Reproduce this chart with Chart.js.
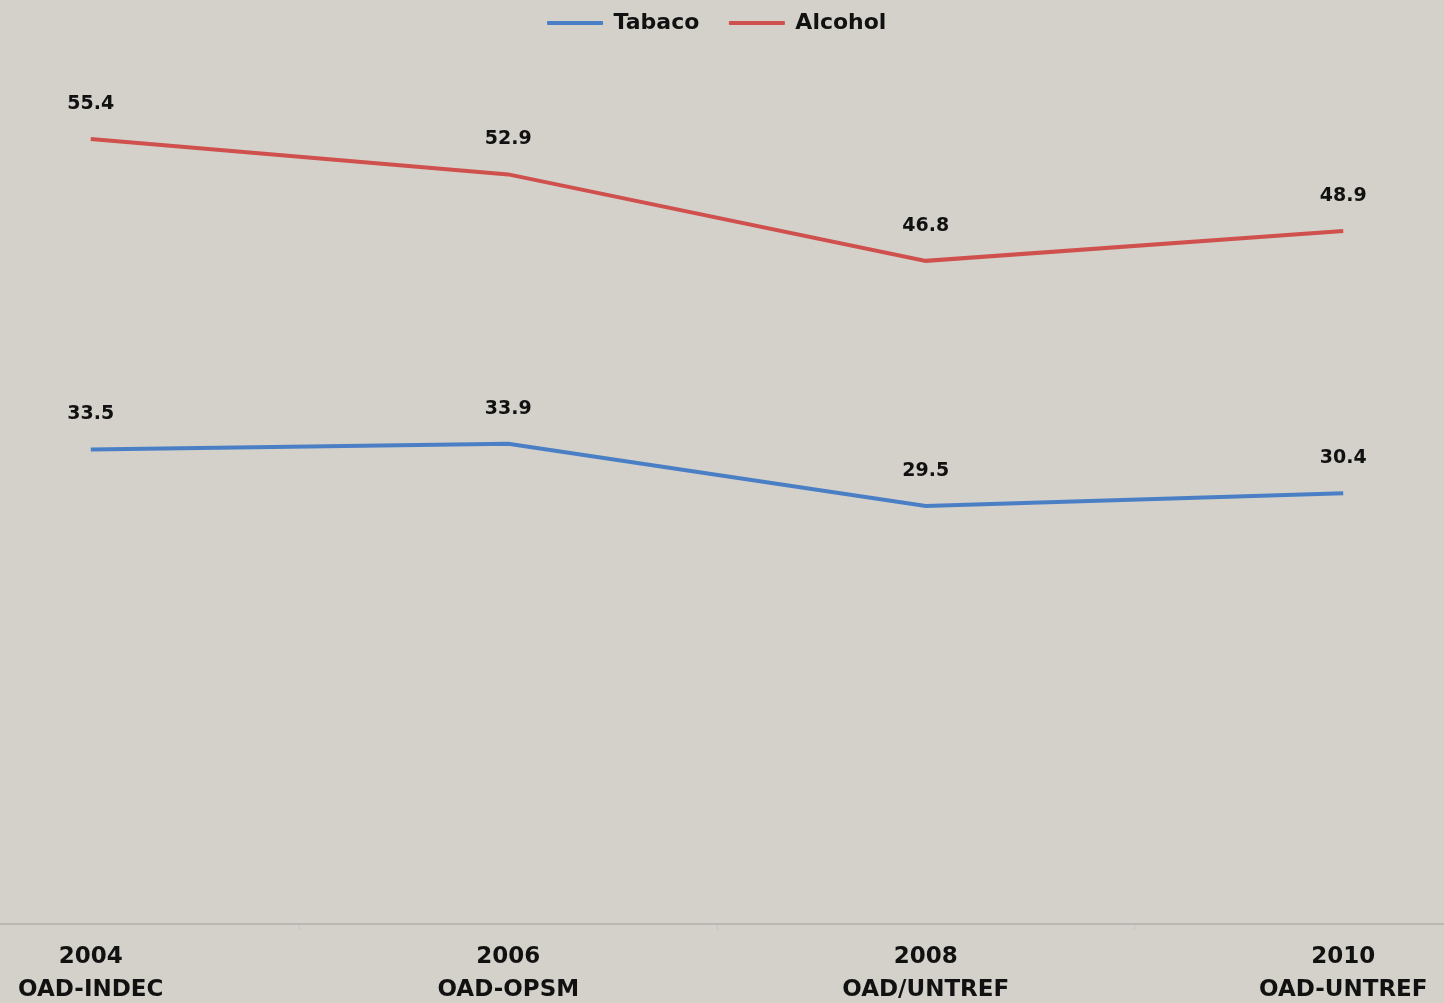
<!DOCTYPE html>
<html>
<head>
<meta charset="utf-8">
<script src="https://cdn.jsdelivr.net/npm/chart.js@4.4.1/dist/chart.umd.min.js"></script>
<style>
  html, body { margin: 0; padding: 0; background: #d3d1ca; overflow: hidden; }
  #wrap { position: absolute; left: -118px; top: 0; width: 1670px; height: 1016px; }
</style>
</head>
<body>
<div id="wrap"><canvas id="chart"></canvas></div>
<script>
// Survey years and sources
const YEARS = ['2004', '2006', '2008', '2010'];
const SOURCES = ['OAD-INDEC', 'OAD-OPSM', 'OAD/UNTREF', 'OAD-UNTREF'];

// Prevalence values (%)
const TABACO = [33.5, 33.9, 29.5, 30.4];
const ALCOHOL = [55.4, 52.9, 46.8, 48.9];

const FONT = '"DejaVu Sans", "Liberation Sans", sans-serif';

// Draw the value above each point
const valueLabels = {
    id: 'valueLabels',
    afterDatasetsDraw(chart) {
        const ctx = chart.ctx;
        ctx.save();
        ctx.font = `bold 19px ${FONT}`;
        ctx.fillStyle = '#111';
        ctx.textAlign = 'center';
        ctx.textBaseline = 'middle';
        chart.data.datasets.forEach((ds, i) => {
            const meta = chart.getDatasetMeta(i);
            meta.data.forEach((pt, j) => {
                ctx.fillText(ds.data[j].toFixed(1), pt.x, pt.y - 35);
            });
        });
        ctx.restore();
    }
};

new Chart(document.getElementById('chart'), {
    type: 'line',
    data: {
        labels: YEARS.map((y, i) => [y, SOURCES[i]]),
        datasets: [
            {
                label: 'Tabaco',
                data: TABACO,
                borderColor: '#4a7fc6',
                backgroundColor: '#4a7fc6',
                borderWidth: 4,
                pointRadius: 0,
                tension: 0
            },
            {
                label: 'Alcohol',
                data: ALCOHOL,
                borderColor: '#d0504e',
                backgroundColor: '#d0504e',
                borderWidth: 4,
                pointRadius: 0,
                tension: 0
            }
        ]
    },
    options: {
        responsive: true,
        maintainAspectRatio: false,
        animation: false,
        layout: { padding: { top: -18, bottom: 0 } },
        plugins: {
            legend: {
                position: 'top',
                labels: {
                    color: '#111',
                    font: { family: FONT, size: 22, weight: 'bold' },
                    boxWidth: 55,
                    boxHeight: 3,
                    padding: 30,
                    generateLabels(chart) {
                        return Chart.defaults.plugins.legend.labels.generateLabels(chart)
                            .map(item => ({ ...item, lineWidth: 1 }));
                    }
                }
            },
            tooltip: { enabled: false }
        },
        scales: {
            x: {
                offset: true,
                border: { display: true, color: '#b9b8b4', width: 2 },
                grid: {
                    offset: true,
                    drawOnChartArea: false,
                    drawTicks: true,
                    tickLength: 6,
                    color: '#c4c3bf'
                },
                ticks: {
                    color: '#111',
                    font: { family: FONT, size: 23, weight: 'bold', lineHeight: 1.43 },
                    padding: 10,
                    maxRotation: 0
                }
            },
            y: {
                display: false,
                min: 0,
                max: 62.1
            }
        }
    },
    plugins: [valueLabels]
});
</script>
</body>
</html>
